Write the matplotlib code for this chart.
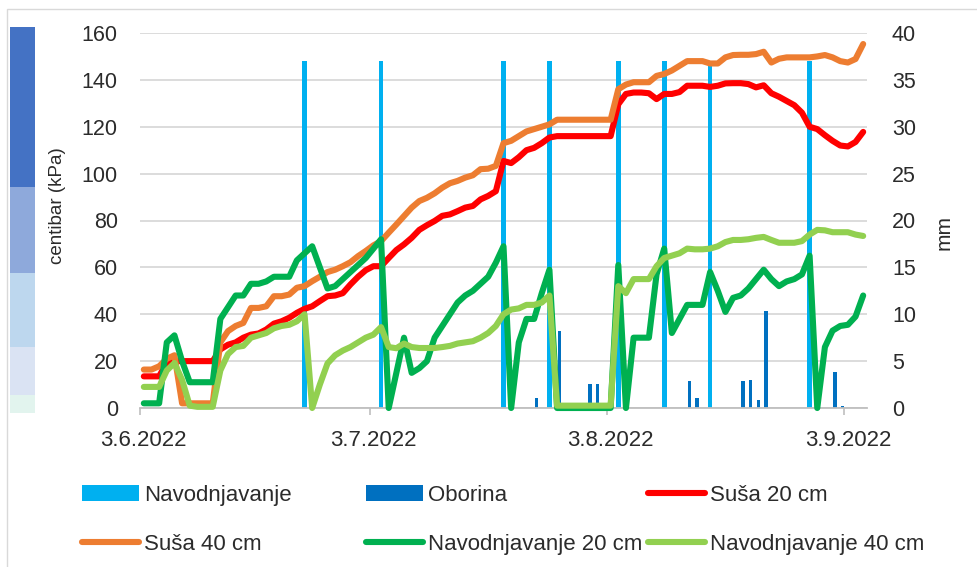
import numpy as np
import matplotlib
matplotlib.use('Agg')
import matplotlib.pyplot as plt
import matplotlib.dates as mdates
from matplotlib.patches import Rectangle

plt.rcParams['font.family'] = ['Liberation Sans', 'DejaVu Sans']

# ---------------- data ----------------
dates = np.arange('2022-06-03', '2022-09-06', dtype='datetime64[D]')  # 95 days

susa_20 = [13.5, 13.5, 13.5, 19.5, 20, 20, 20, 20, 20, 20,
           25, 27, 28, 30, 31.3, 31.8, 33.5, 36, 37, 38.5,
           40.6, 42.3, 43.4, 45.6, 47.7, 48, 49, 52.7, 56, 58.8,
           60.5, 60.5, 64, 67.4, 69.8, 72.6, 76, 78, 79.8, 82,
           82.6, 84, 85.5, 86.2, 89, 90.5, 92.5, 105.4, 104.5, 107,
           110, 111, 113, 115.4, 116, 116, 116, 116, 116, 116,
           116, 116, 129.6, 134, 134.6, 134.6, 134.3, 131.8, 134, 134,
           134.8, 137.5, 137.5, 137.5, 137, 137.5, 138.5, 138.6, 138.6, 138.2,
           136.8, 137.7, 134.3, 132.8, 131, 129.2, 126, 120, 119, 116.4,
           114, 112, 111.6, 113.5, 117.8]

susa_40 = [16.4, 16.4, 17.8, 21, 22.5, 2, 2, 2, 2, 2,
           28, 32.8, 35, 36.3, 42.7, 42.7, 43.4, 47.7, 47.7, 48.4,
           51.3, 52, 54.1, 56, 58, 59, 60.5, 62.2, 64.8, 67,
           69.4, 71.2, 74.8, 78.3, 81.9, 85.5, 88.3, 89.7, 91.6, 94,
           95.9, 96.9, 98.3, 99.3, 101.9, 102.1, 103.3, 113, 114, 116,
           118, 119, 120, 121, 123, 123, 123, 123, 123, 123,
           123, 123, 136, 138, 139, 139, 139, 141.7, 142.5, 144,
           146, 148, 148, 148, 147, 147, 149.6, 150.6, 150.7, 150.7,
           151, 152, 147.4, 149, 149.6, 149.6, 149.6, 149.6, 150, 150.6,
           149.6, 148, 147.4, 148.9, 155.3]

navodnjavanje_20 = [2, 2, 2, 28, 31, 20, 11, 11, 11, 11,
                    38, 43, 48, 48, 53, 53, 54, 56, 56, 56,
                    63, 66, 69, 60, 51, 52, 55, 58, 61, 64,
                    68, 72, 0, 15, 30, 15, 17, 20, 30, 35,
                    40, 45, 48, 50, 53, 56, 62, 69, 0, 28,
                    38, 38, 49, 59, 0, 0, 0, 0, 0, 0,
                    0, 0, 61, 0, 30, 30, 30, 57, 68, 32,
                    38, 44, 44, 44, 58, 50, 41, 47, 48, 51,
                    55, 59, 55, 52, 54, 55, 57, 65, 0, 26,
                    33, 35, 35.5, 39, 48]

navodnjavanje_40 = [9, 9, 9, 16, 19.2, 12, 1, 0.5, 0.5, 0.5,
                    16, 23, 26, 26.5, 30, 31, 32, 34, 35, 35.5,
                    37, 40, 0, 10, 19, 22.5, 24.5, 26, 28, 30,
                    31.3, 34.5, 26, 25.5, 27.5, 26, 25.6, 25.6, 25.6, 26,
                    26.5, 27.5, 28, 28.5, 30, 32, 35, 40, 42, 42.5,
                    44, 44, 45, 48, 1, 1, 1, 1, 1, 1,
                    1, 1, 52, 49, 55, 55, 55, 60.5, 64, 65,
                    66, 68, 67.7, 67.7, 68, 69, 70.8, 71.7, 71.7, 72,
                    72.6, 73, 71.7, 70.5, 70.5, 70.5, 71.2, 74, 76, 75.8,
                    75, 75, 75, 74, 73.4]

irrigation_dates = np.array(['2022-06-24', '2022-07-04', '2022-07-20', '2022-07-26',
                             '2022-08-04', '2022-08-10', '2022-08-16', '2022-08-29'],
                            dtype='datetime64[D]')
irrigation_mm = [37, 37, 37, 37, 37, 37, 37, 37]

rain_dates = np.array(['2022-07-24', '2022-07-27', '2022-07-31', '2022-08-01',
                       '2022-08-13', '2022-08-14', '2022-08-20', '2022-08-21',
                       '2022-08-22', '2022-08-23', '2022-09-01', '2022-09-02'],
                      dtype='datetime64[D]')
rain_mm = [1.1, 8.2, 2.6, 2.6, 2.9, 1.1, 2.9, 3.0, 0.85, 10.3, 3.8, 0.2]

tick_dates = np.array(['2022-06-03', '2022-07-03', '2022-08-03', '2022-09-03'],
                      dtype='datetime64[D]')

left_ticks = [0, 20, 40, 60, 80, 100, 120, 140, 160]
right_ticks = [0, 5, 10, 15, 20, 25, 30, 35, 40]

# decorative scale strip (kPa boundaries, bottom -> top)
strip_edges = [-2.3, 5.5, 26.2, 57.5, 94.2, 162.7]
strip_colors = ['#E2F4EE', '#DAE3F3', '#BDD7EE', '#8EA9DB', '#4472C4']

C_IRR = '#00B0F0'
C_RAIN = '#0070C0'
C_S20 = '#FF0000'
C_S40 = '#ED7D31'
C_N20 = '#00B050'
C_N40 = '#92D050'
TXT = '#2B2B2B'

# ---------------- figure ----------------
W, H = 977, 567
fig = plt.figure(figsize=(W / 100, H / 100), dpi=100)

def fx(px):
    return px / W

def fy(py):
    return 1 - py / H

ax_b = fig.add_axes([fx(140), fy(408), fx(867) - fx(140), fy(33) - fy(408)])
ax_l = ax_b.twinx()

half = np.timedelta64(12, 'h')

# bars (right axis, mm)
ax_b.bar(irrigation_dates, irrigation_mm, width=0.6, color=C_IRR,
         label='Navodnjavanje', zorder=2)
ax_b.bar(rain_dates + np.timedelta64(7, 'h'), rain_mm, width=0.45, color=C_RAIN,
         label='Oborina', zorder=2)
ax_b.set_ylim(0, 40)
ax_b.set_yticks(right_ticks)
ax_b.yaxis.tick_right()
ax_b.grid(axis='y', color='#D9D9D9', lw=1.3)
ax_b.set_axisbelow(True)
ax_b.tick_params(axis='y', length=0, pad=18, labelsize=15.5, labelcolor=TXT)

# lines (left axis, centibar)
lw = 4.4
kw = dict(lw=lw, solid_joinstyle='round', solid_capstyle='round', clip_on=False)
ax_l.plot(dates, susa_20, color=C_S20, label='Suša 20 cm', **kw)
ax_l.plot(dates, susa_40, color=C_S40, label='Suša 40 cm', **kw)
ax_l.plot(dates, navodnjavanje_20, color=C_N20, label='Navodnjavanje 20 cm', **kw)
ax_l.plot(dates, navodnjavanje_40, color=C_N40, label='Navodnjavanje 40 cm', **kw)
ax_l.set_ylim(0, 160)
ax_l.set_yticks(left_ticks)
ax_l.yaxis.tick_left()
ax_l.tick_params(axis='y', length=0, pad=16, labelsize=15.5, labelcolor=TXT)

ax_b.set_xlim(dates[0] - half, dates[-1] + half)
ax_b.set_xticks(tick_dates)
ax_b.set_xticks(tick_dates - half, minor=True)
ax_b.xaxis.set_major_formatter(mdates.DateFormatter('%-d.%-m.%Y'))
ax_b.tick_params(axis='x', which='major', length=0, pad=16, labelsize=16, labelcolor=TXT)
ax_b.tick_params(axis='x', which='minor', length=5, width=1.2, color='#BFBFBF')

for a in (ax_b, ax_l):
    for s in ('left', 'right', 'top'):
        a.spines[s].set_visible(False)
ax_l.spines['bottom'].set_visible(False)
ax_b.spines['bottom'].set_color('#BFBFBF')
ax_b.spines['bottom'].set_linewidth(1.3)

# axis titles
fig.text(fx(57.5), fy(206), 'centibar (kPa)', rotation=90, ha='center', va='center',
         fontsize=13.5, color=TXT)
fig.text(fx(944), fy(233), 'mm', rotation=90, ha='center', va='center',
         fontsize=15, color=TXT)

# decorative strip
ax_s = fig.add_axes([fx(10), fy(413.3), fx(35) - fx(10), fy(26.7) - fy(413.3)])
ax_s.bar([0] * len(strip_colors), np.diff(strip_edges), bottom=strip_edges[:-1],
         width=1.0, color=strip_colors)
ax_s.set_xlim(-0.5, 0.5)
ax_s.set_ylim(strip_edges[0], strip_edges[-1])
ax_s.axis('off')

# chart border
fig.add_artist(Rectangle((fx(7), -0.01), 1.0, fy(9) + 0.01, transform=fig.transFigure,
                         fill=False, ec='#D9D9D9', lw=1.0))

# legend: three columns
h_b, l_b = ax_b.get_legend_handles_labels()
h_l, l_l = ax_l.get_legend_handles_labels()
handles = dict(zip(l_b + l_l, h_b + h_l))
columns = [(['Navodnjavanje', 'Suša 40 cm'], 82),
           (['Oborina', 'Navodnjavanje 20 cm'], 366),
           (['Suša 20 cm', 'Navodnjavanje 40 cm'], 648)]
for labels, xpx in columns:
    fig.legend([handles[k] for k in labels], labels, loc='upper left',
               bbox_to_anchor=(fx(xpx), fy(485)), frameon=False, fontsize=16,
               borderpad=0, borderaxespad=0, handlelength=2.57, handletextpad=0.22,
               labelspacing=1.25, labelcolor=TXT)

fig.savefig('out.png', dpi=100)
